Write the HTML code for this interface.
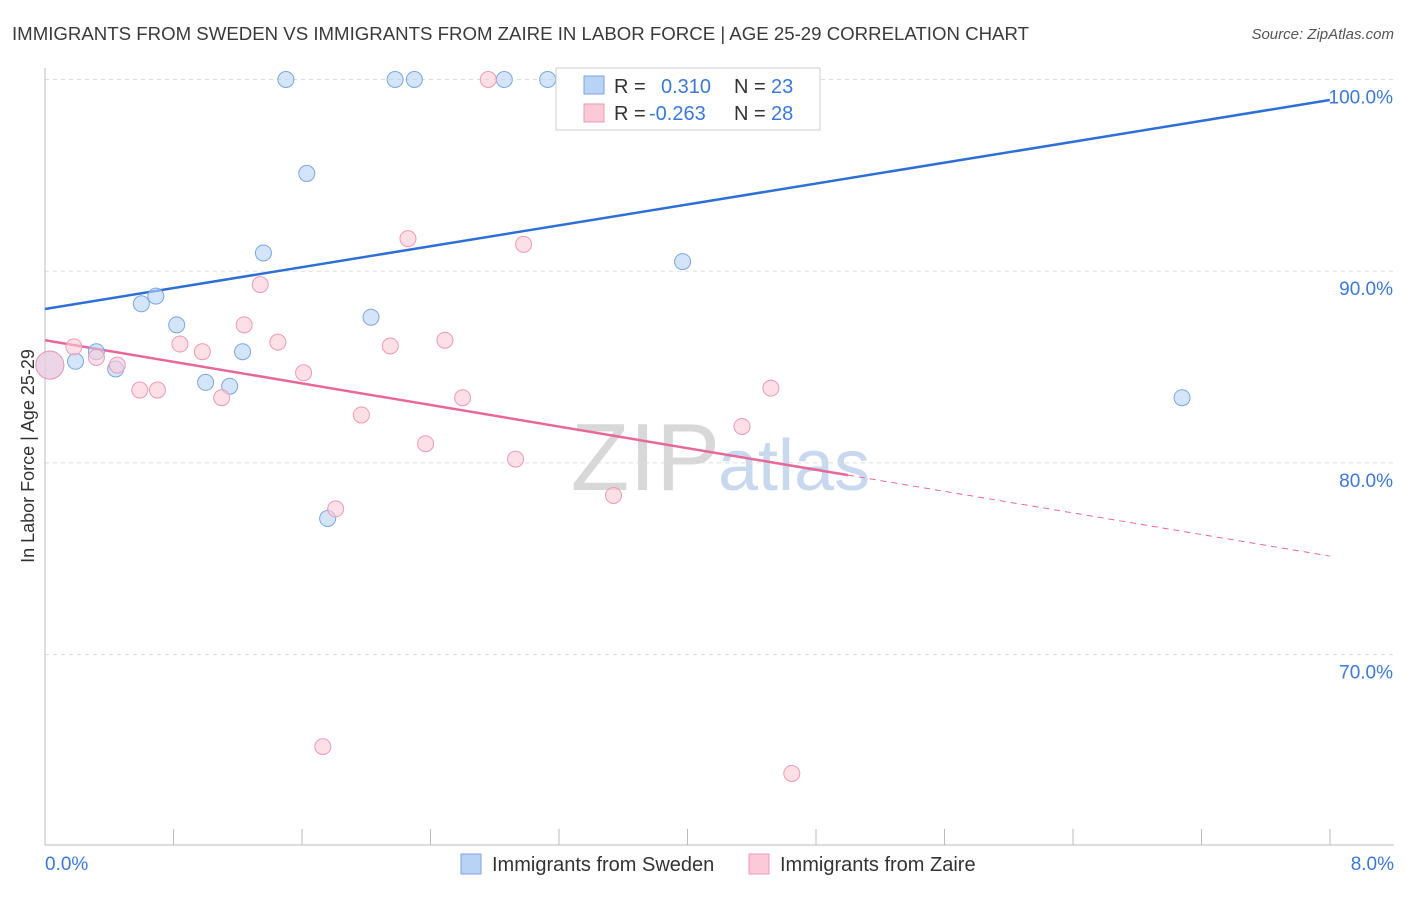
<!DOCTYPE html>
<html><head><meta charset="utf-8"><style>
body{margin:0;background:#fff;font-family:"Liberation Sans",sans-serif;}
svg text{font-family:"Liberation Sans",sans-serif;}
</style></head><body>
<svg id="c" width="1406" height="892" xmlns="http://www.w3.org/2000/svg">
<text x="12" y="40" font-size="18" fill="#3a3a3a" textLength="1017" lengthAdjust="spacingAndGlyphs">IMMIGRANTS FROM SWEDEN VS IMMIGRANTS FROM ZAIRE IN LABOR FORCE | AGE 25-29 CORRELATION CHART</text>
<text x="1394" y="39" font-size="15" fill="#555" font-style="italic" text-anchor="end">Source: ZipAtlas.com</text>
<text x="720" y="490" font-size="96" fill="#d8d8d8" text-anchor="end" font-family="Liberation Serif">ZIP</text>
<text x="718" y="490" font-size="72" fill="#c8d8ee">atlas</text>
<text transform="translate(34,456) rotate(-90)" font-size="18" fill="#333" text-anchor="middle">In Labor Force | Age 25-29</text>
<g id="grid"></g><g id="axes"></g><g id="lines"></g><g id="pts"></g>
<g>
<rect x="556" y="68" width="264" height="62" fill="#fff" stroke="#ccc"/>
<rect x="584" y="76" width="20" height="18" fill="#b9d3f5" stroke="#7aa6e0"/>
<text x="614" y="93" font-size="20" fill="#333">R = </text><text x="661" y="93" font-size="20" fill="#3b78d8">0.310</text>
<text x="734" y="93" font-size="20" fill="#333">N = </text><text x="771" y="93" font-size="20" fill="#3b78d8">23</text>
<rect x="584" y="104" width="20" height="18" fill="#fbc9d8" stroke="#ef9ab5"/>
<text x="614" y="120" font-size="20" fill="#333">R = </text><text x="649" y="120" font-size="20" fill="#3b78d8">-0.263</text>
<text x="734" y="120" font-size="20" fill="#333">N = </text><text x="771" y="120" font-size="20" fill="#3b78d8">28</text>
</g>
<g><rect x="461" y="854" width="20" height="20" fill="#b9d3f5" stroke="#7aa6e0"/><text x="492" y="871" font-size="20" fill="#333">Immigrants from Sweden</text></g>
<g><rect x="749" y="854" width="20" height="20" fill="#fbc9d8" stroke="#ef9ab5"/><text x="780" y="871" font-size="20" fill="#333">Immigrants from Zaire</text></g>
</svg>
<script>
const yTicks=[70,80,90,100];
const xTickLabels=["0.0%","8.0%"];
const swedenX=[1.50,2.18,2.30,2.86,3.13,3.49,4.14,1.63,1.36,0.69,0.60,0.82,2.03,3.97,0.32,0.19,0.44,1.23,1.00,1.15,7.08,1.76,0.03];
const swedenY=[100,100,100,100,100,100,100,95.1,90.95,88.7,88.3,87.2,87.6,90.5,85.8,85.3,84.9,85.8,84.2,84.0,83.4,77.1,85.1];
const zaireX=[2.76,2.26,2.98,1.34,1.24,0.84,0.98,1.45,2.15,2.49,0.18,0.32,0.45,0.59,0.70,1.10,1.61,1.97,2.60,2.37,2.93,3.54,4.34,4.52,1.81,1.73,4.65,0.03];
const zaireY=[100,91.7,91.4,89.3,87.2,86.2,85.8,86.3,86.1,86.4,86.05,85.5,85.1,83.8,83.8,83.4,84.7,82.5,83.4,81.0,80.2,78.3,81.9,83.9,77.6,65.2,63.8,85.1];
const swedenTrend=[88.03,98.93];
const zaireTrend=[86.4,75.14];
const zaireSolidEnd=5.0;
const X=v=>45+v*160.6, Y=v=>79.5+(100-v)*19.17;
const NS="http://www.w3.org/2000/svg";
function mk(p,t,a){const e=document.createElementNS(NS,t);for(const k in a)e.setAttribute(k,a[k]);document.getElementById(p).appendChild(e);return e;}
yTicks.forEach(t=>{
 const l=mk('grid','line',{x1:45,x2:1394,y1:Y(t),y2:Y(t),stroke:'#ddd','stroke-dasharray':'4,4'});
 
 
 const tx=mk('grid','text',{x:1393,y:Y(t)+24,'font-size':19,fill:'#3b78d8','text-anchor':'end'});tx.textContent=t.toFixed(1)+'%';
 
 
});
const ax=mk('axes','line',{x1:45,x2:45,y1:68,y2:845,stroke:'#bbb'});


const bx=mk('axes','line',{x1:45,x2:1394,y1:845,y2:845,stroke:'#bbb'});


for(let i=0;i<=10;i++){const t=mk('axes','line',{x1:45+i*128.5,x2:45+i*128.5,y1:829,y2:845,stroke:'#bbb'});
 
 }
[[0,'start',45],[1,'end',1394]].forEach(([i,a,x])=>{const t=mk('axes','text',{x:x,y:870,'font-size':19,fill:'#3b78d8','text-anchor':a});t.textContent=xTickLabels[i];
 
 });
const bl=mk('lines','line',{x1:X(0),y1:Y(swedenTrend[0]),x2:X(8),y2:Y(swedenTrend[1]),stroke:'#2e6fd6','stroke-width':2.5});


const zAt=x=>zaireTrend[0]+(zaireTrend[1]-zaireTrend[0])*x/8;
const pl=mk('lines','line',{x1:X(0),y1:Y(zAt(0)),x2:X(zaireSolidEnd),y2:Y(zAt(zaireSolidEnd)),stroke:'#e8679a','stroke-width':2.5});


const pd=mk('lines','line',{x1:X(zaireSolidEnd),y1:Y(zAt(zaireSolidEnd)),x2:X(8),y2:Y(zAt(8)),stroke:'#e8679a','stroke-width':1,'stroke-dasharray':'6,5'});


swedenX.forEach((x,i)=>{const c=mk('pts','circle',{cx:X(x),cy:Y(swedenY[i]),r:i==swedenX.length-1?14:8,fill:'#b9d3f5','fill-opacity':0.6,stroke:'#7aa6e0'});
 
 });
zaireX.forEach((x,i)=>{const c=mk('pts','circle',{cx:X(x),cy:Y(zaireY[i]),r:i==zaireX.length-1?14:8,fill:'#fbc9d8','fill-opacity':0.6,stroke:'#ef9ab5'});
 
 });
</script>
</body></html>
